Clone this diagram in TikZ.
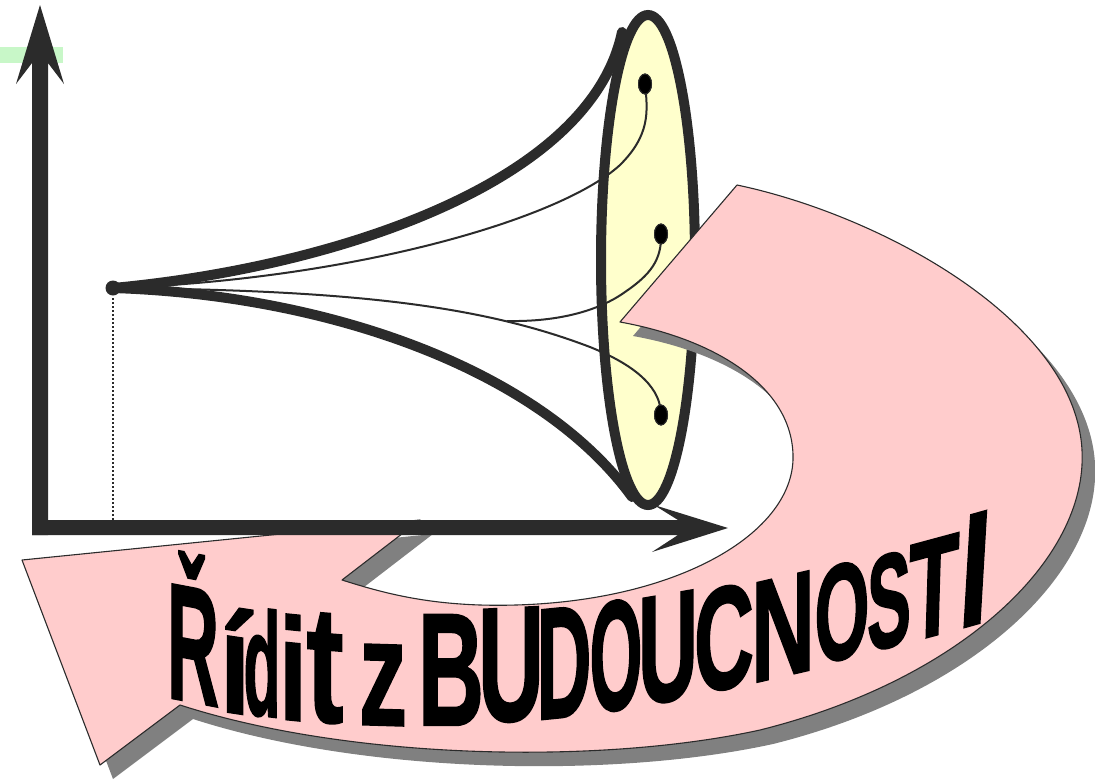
\documentclass[tikz,border=0pt]{standalone}
\usepackage{fontspec}
\setmainfont{Liberation Sans}
\newfontfamily\wafont[FakeBold=1.5]{Liberation Sans}
\usepackage{graphicx}
\usetikzlibrary{shapes.geometric}
\definecolor{dk}{HTML}{2B2B2B}
\definecolor{pinkband}{HTML}{FFCCCC}
\definecolor{shadowgray}{HTML}{808080}
\definecolor{lemon}{HTML}{FFFFCC}
\definecolor{mint}{HTML}{C8F7C8}
% name, cx, bottom y, box width, height, yslant, letter, visible width, xslant
\newcommand{\wl}[9]{\node[name=#1, anchor=south, inner sep=0pt, outer sep=0pt, yslant=#6, xslant=#9] at (#2,#3) {\makebox[#8pt]{\resizebox{#4pt}{#5pt}{\wafont\bfseries #7}}};}
\tikzset{
  funnelline/.style={draw=dk, line width=10pt, line cap=round},
  ray/.style={draw=dk, line width=2pt},
  dotmark/.style={ellipse, fill=black, draw=dk, line width=1pt, minimum width=13pt, minimum height=20pt, inner sep=0pt},
  band/.style={fill=pinkband, draw=dk, line width=1.1pt, line join=round},
  bandshadow/.style={fill=shadowgray, draw=none},
  guide/.style={draw=dk, line width=2pt, dash pattern=on 2pt off 2pt}
}
\begin{document}
\begin{tikzpicture}[x=1pt,y=-1pt]
\useasboundingbox (0,0) rectangle (1095,782);
% green bar
\fill[mint] (0,47) rectangle (63,63);
% ellipse (funnel mouth)
\draw[draw=dk, fill=lemon, line width=10pt] (648,260) ellipse [x radius=47, y radius=245];
% origin
\node[circle, fill=dk, minimum size=15pt, inner sep=0pt] (o) at (113,288) {};
\coordinate (ob) at (113,520);
\draw[guide] (113,298) -- (ob);
% funnel thick curves
\draw[funnelline] (o.center) .. controls (330,268) and (590,185) .. (622,32);
\draw[funnelline] (o.center) .. controls (330,295) and (540,370) .. (632,497);
% dots
\node[dotmark] (d1) at (645,84) {};
\node[dotmark] (d2) at (661,234) {};
\node[dotmark] (d3) at (661,415) {};
\coordinate (m0) at (507,321);
% thin rays
\draw[ray] (o.center) .. controls (350,280) and (560,220) .. (620,165) .. controls (650,135) and (648,112) .. (d1.center);
\draw[ray] (o.center) .. controls (350,290) and (480,305) .. (590,347) .. controls (640,367) and (661,390) .. (d3.center);
\draw[ray] (m0) .. controls (560,322) and (600,310) .. (625,292) .. controls (650,275) and (662,260) .. (d2.center);
\node[dotmark] at (d1.center) {};
\node[dotmark] at (d2.center) {};
\node[dotmark] at (d3.center) {};
% curved pink arrow: shadow
\begin{scope}[shift={(13,14)}]
\path[bandshadow] (737,185) .. controls (880,215) and (1075,320) .. (1082,450)
  .. controls (1088,560) and (960,680) .. (760,730)
  .. controls (600,765) and (350,760) .. (180,705)
  -- (100,765) -- (22,560) -- (420,520) -- (342,580)
  .. controls (380,592) and (420,603) .. (480,605)
  .. controls (660,610) and (790,540) .. (793,460)
  .. controls (795,390) and (720,340) .. (620,322) -- cycle;
\end{scope}
\path[band] (737,185) .. controls (880,215) and (1075,320) .. (1082,450)
  .. controls (1088,560) and (960,680) .. (760,730)
  .. controls (600,765) and (350,760) .. (180,705)
  -- (100,765) -- (22,560) -- (420,520) -- (342,580)
  .. controls (380,592) and (420,603) .. (480,605)
  .. controls (660,610) and (790,540) .. (793,460)
  .. controls (795,390) and (720,340) .. (620,322) -- cycle;
% axes
\fill[dk] (40,5) -- (64,84) -- (48,63) -- (48,535) -- (32,535) -- (32,63) -- (16,84) -- cycle;
\fill[dk] (32,520) -- (678,520) -- (654,505) -- (728,528) -- (652,552) -- (678,535) -- (32,535) -- cycle;
% word art text
\wl{l1}{193}{702}{52}{148}{-0.19}{Ř}{46}{0}
\wl{l2}{235}{713}{30}{105}{-0.15}{í}{20}{0}
\wl{l3}{262}{717}{37}{107}{-0.12}{d}{32}{0}
\wl{l4}{293}{720}{28}{105}{-0.10}{i}{17}{0}
\wl{l5}{325}{723}{37}{108}{-0.08}{t}{33}{0}
\wl{l6}{383}{725}{48}{80}{-0.03}{z}{43}{0}
\wl{l7}{451}{725}{66}{110}{0}{B}{57}{0}
\wl{l8}{511}{722}{66}{112}{0.05}{U}{54}{0}
\wl{l9}{564}{717}{55}{109}{0.10}{D}{46}{0}
\wl{l10}{616}{711}{53}{109}{0.13}{O}{48}{0}
\wl{l11}{668}{702}{60}{106}{0.17}{U}{48}{0}
\wl{l12}{724}{690}{60}{102}{0.20}{C}{50}{0}
\wl{l13}{783}{676}{64}{99}{0.23}{N}{53}{0}
\wl{l14}{842}{660}{55}{95}{0.25}{O}{50}{0}
\wl{l15}{889}{648}{44}{93}{0.26}{S}{35}{0}
\wl{l16}{932}{636}{50}{96}{0.27}{T}{42}{0.03}
\wl{l17}{972}{625}{30}{110}{0.28}{I}{19}{0.06}
\end{tikzpicture}
\end{document}
